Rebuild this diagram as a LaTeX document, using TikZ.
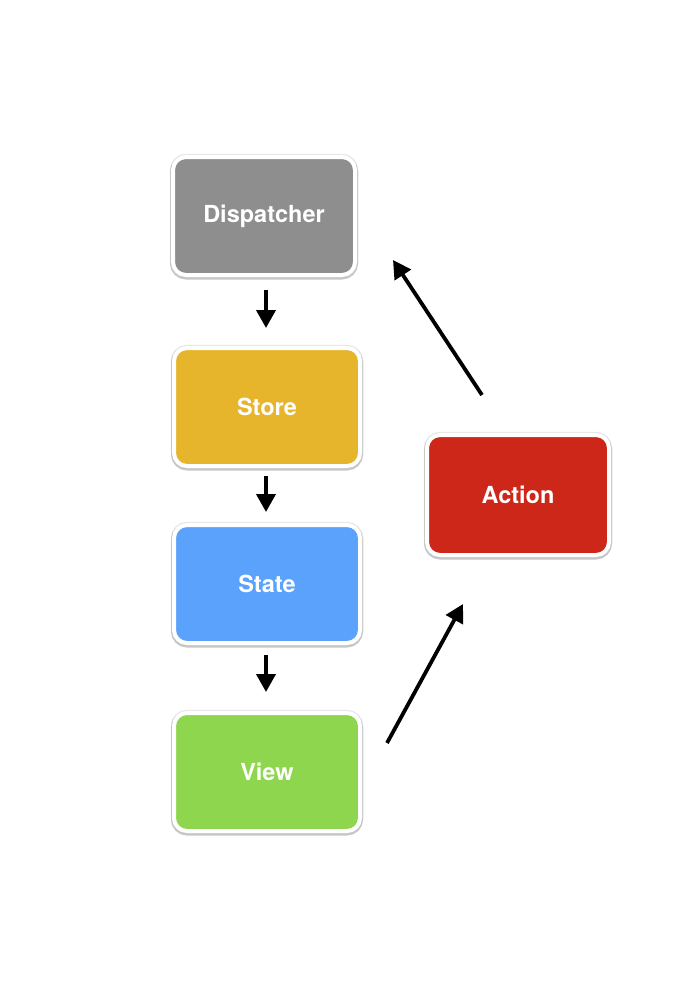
\documentclass[tikz,border=0pt]{standalone}
\usepackage{fontspec}
\setsansfont{TeX Gyre Heros}
\usetikzlibrary{arrows.meta}
\definecolor{dispgray}{HTML}{8E8E8E}
\definecolor{storeyellow}{HTML}{E6B52B}
\definecolor{stateblue}{HTML}{5AA2FB}
\definecolor{viewgreen}{HTML}{8DD64E}
\definecolor{actionred}{HTML}{CC2718}
\begin{document}
\begin{tikzpicture}[x=1pt,y=-1pt]
    \tikzset{
        FluxBox/.style={rectangle, rounded corners=13pt, draw=white, line width=4pt,
            minimum width=186pt, minimum height=118pt, text=white,
            font=\sffamily\bfseries\fontsize{23.5}{28}\selectfont,
            preaction={draw=black!9, line width=6.5pt},
            preaction={draw=black!22, line width=6pt, transform canvas={yshift=-1.5pt}}},
        FluxEdge/.style={-{Triangle[width=19pt,length=18pt]}, line width=3.8pt, black}}
    \useasboundingbox[fill=white] (0,0) rectangle (700,989);
    \node[FluxBox, fill=dispgray, minimum width=182pt] (disp) at (264,216) {Dispatcher};
    \node[FluxBox, fill=storeyellow] (store) at (267,407) {Store};
    \node[FluxBox, fill=stateblue] (state) at (267,584) {State};
    \node[FluxBox, fill=viewgreen] (view) at (267,772) {View};
    \node[FluxBox, fill=actionred, minimum width=182pt, minimum height=120pt] (action) at (518,495) {Action};
    \coordinate (viewout) at (387,743);
    \coordinate (actionin) at (463,604);
    \coordinate (actionout) at (482,395);
    \coordinate (dispin) at (393,260);
    \draw[FluxEdge, shorten <=13pt, shorten >=18pt] (disp.south -| 266,0) -- (store.north -| 266,0);
    \draw[FluxEdge, shorten <=8pt, shorten >=11pt] (store.south -| 266,0) -- (state.north -| 266,0);
    \draw[FluxEdge, shorten <=10pt, shorten >=19pt] (state.south -| 266,0) -- (view.north -| 266,0);
    \draw[FluxEdge] (viewout) -- (actionin);
    \draw[FluxEdge] (actionout) -- (dispin);
\end{tikzpicture}
\end{document}
